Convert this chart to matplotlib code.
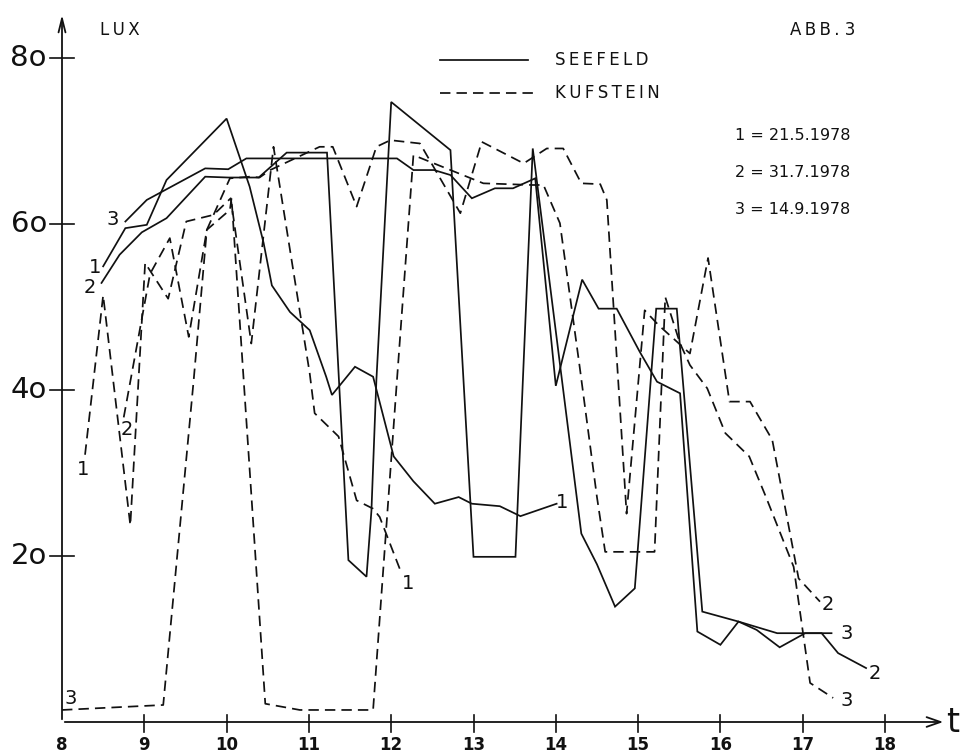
import matplotlib
matplotlib.use("Agg")
import matplotlib.pyplot as plt

# ---------------- data (hour of day, lux) ----------------
seefeld_1_t = [8.50, 8.77, 9.03, 9.27, 10.00, 10.28, 10.45, 10.55, 10.77, 11.01, 11.21, 11.28,
               11.56, 11.78, 12.03, 12.27, 12.53, 12.82, 12.98, 13.32, 13.57, 14.01]
seefeld_1_v = [54.9, 59.5, 59.9, 65.3, 72.7, 64.5, 57.7, 52.6, 49.4, 47.2, 41.6, 39.4,
               42.8, 41.6, 32.0, 29.0, 26.3, 27.1, 26.3, 26.0, 24.8, 26.3]

seefeld_2_t = [8.48, 8.70, 8.97, 9.27, 9.74, 10.02, 10.39, 10.73, 11.22, 11.48, 11.70, 11.76,
               11.82, 12.00, 12.72, 13.00, 13.51, 13.60, 13.72, 14.31, 14.50, 14.72, 14.96,
               15.22, 15.47, 15.78, 16.22, 16.69, 17.23, 17.43, 17.77]
seefeld_2_v = [52.9, 56.3, 59.0, 60.7, 65.7, 65.6, 65.6, 68.6, 68.6, 19.5, 17.5, 25.5,
               41.2, 74.7, 68.9, 19.9, 19.9, 41.2, 69.1, 22.7, 19.0, 13.9, 16.1,
               49.8, 49.8, 13.3, 12.1, 10.7, 10.7, 8.3, 6.5]

seefeld_3_t = [8.77, 9.03, 9.74, 10.02, 10.24, 12.07, 12.27, 12.52, 12.72, 12.98, 13.26, 13.48,
               13.75, 14.00, 14.32, 14.52, 14.74, 15.02, 15.23, 15.51, 15.72, 16.00, 16.22,
               16.44, 16.72, 17.03, 17.35]
seefeld_3_v = [60.3, 62.9, 66.7, 66.6, 67.9, 67.9, 66.5, 66.5, 65.9, 63.1, 64.3, 64.3,
               65.5, 40.5, 53.3, 49.8, 49.8, 44.6, 41.0, 39.6, 10.9, 9.3, 12.1,
               11.1, 9.0, 10.7, 10.7]

kufstein_1_t = [8.28, 8.50, 8.83, 9.01, 9.29, 9.51, 9.84, 10.05, 10.30, 10.57, 11.01, 11.07,
                11.36, 11.58, 11.78, 11.86, 12.11]
kufstein_1_v = [32.2, 51.4, 23.7, 55.3, 51.0, 60.3, 61.1, 63.1, 45.6, 69.3, 42.0, 37.2,
                34.4, 26.7, 25.7, 24.7, 18.3]

kufstein_2_t = [8.75, 9.07, 9.31, 9.54, 9.76, 10.04, 10.28, 10.40, 10.53, 11.13, 11.29, 11.58,
                11.82, 11.99, 12.35, 12.84, 13.10, 13.61, 13.89, 14.09, 14.31, 14.54, 14.62,
                14.86, 15.08, 15.25, 15.63, 15.85, 16.11, 16.36, 16.63, 16.95, 17.21]
kufstein_2_v = [36.7, 54.0, 58.3, 46.4, 59.3, 65.5, 65.7, 65.6, 66.5, 69.3, 69.3, 62.1,
                69.3, 70.1, 69.7, 61.3, 69.9, 67.3, 69.1, 69.1, 64.9, 64.8, 62.9,
                25.1, 49.6, 47.8, 44.4, 55.9, 38.6, 38.6, 34.0, 17.3, 14.5]

kufstein_3_t = [8.00, 9.23, 9.60, 9.76, 10.04, 10.06, 10.47, 10.89, 11.78, 12.07, 12.27, 13.12,
                13.71, 13.85, 14.05, 14.29, 14.50, 14.60, 15.20, 15.33, 15.51, 15.63, 15.84,
                16.06, 16.35, 16.55, 16.89, 17.09, 17.37]
kufstein_3_v = [1.45, 2.05, 41.2, 59.3, 61.7, 63.1, 2.2, 1.45, 1.45, 41.2, 68.3, 64.9,
                64.7, 64.7, 60.1, 42.8, 27.1, 20.5, 20.5, 51.2, 45.6, 43.0, 40.2,
                34.8, 32.0, 27.2, 18.7, 4.7, 2.9]

x_ticks = [8, 9, 10, 11, 12, 13, 14, 15, 16, 17, 18]
y_ticks = [20, 40, 60, 80]
y_tick_labels = ["2o", "4o", "6o", "8o"]
dates = ["1 = 21.5.1978", "2 = 31.7.1978", "3 = 14.9.1978"]

# ---------------- figure ----------------
W, H = 965, 755
fig = plt.figure(figsize=(W / 100, H / 100), dpi=100)
ax = fig.add_axes([0, 0, 1, 1])
# pixel mapping: t=8 -> x 62 px, 82.3 px per hour; lux 0 -> y 722 px, 8.3 px per lux
PX_H, X0 = 82.3, 62.0
PX_L, Y0 = 8.3, 722.0
ax.set_xlim(8 - X0 / PX_H, 8 + (W - X0) / PX_H)
ax.set_ylim(-(H - Y0) / PX_L, Y0 / PX_L)
ax.axis("off")

def dx(px):
    return px / PX_H

def dy(px):
    return px / PX_L

def fx(px):  # figure pixel x -> data
    return 8 + (px - X0) / PX_H

def fy(py):  # figure pixel y (from top) -> data
    return (Y0 - py) / PX_L

ink = "#111111"
lw = 1.25
dash = (0, (6, 3.5))
font = "DejaVu Sans"
TS = "\u2009"  # thin space for the wide-spaced lettering

def spaced(s):
    return TS.join(s)

for tt, vv in [(seefeld_1_t, seefeld_1_v), (seefeld_2_t, seefeld_2_v), (seefeld_3_t, seefeld_3_v)]:
    ax.plot(tt, vv, color=ink, lw=lw, solid_joinstyle="miter")
for tt, vv in [(kufstein_1_t, kufstein_1_v), (kufstein_2_t, kufstein_2_v), (kufstein_3_t, kufstein_3_v)]:
    ax.plot(tt, vv, color=ink, lw=lw, linestyle=dash)

# axes with arrows
ax.annotate("", xy=(fx(946), 0), xytext=(8, 0),
            arrowprops=dict(arrowstyle="->,head_length=1.0,head_width=0.35", color=ink, lw=1.3))
ax.annotate("", xy=(8, fy(12)), xytext=(8, 0),
            arrowprops=dict(arrowstyle="->,head_length=1.0,head_width=0.25", color=ink, lw=1.3))
ax.text(fx(953), fy(722), "t", fontsize=24, family=font, ha="center", va="center", color=ink)

for xt in x_ticks[1:]:
    ax.plot([xt, xt], [-dy(10), dy(7)], color=ink, lw=1.2)
for xt in x_ticks:
    ax.text(xt, fy(745), str(xt), fontsize=12, fontweight="bold", family=font,
            ha="center", va="center", color=ink)

for yt, lab in zip(y_ticks, y_tick_labels):
    ax.plot([8 - dx(12), 8 + dx(12)], [yt, yt], color=ink, lw=1.2)
    ax.text(fx(47), yt, lab, fontsize=21, family=font, ha="right", va="center", color=ink)

ax.text(fx(100), fy(30), spaced("LUX"), fontsize=12, family=font, ha="left", va="center", color=ink)
ax.text(fx(790), fy(30), spaced("ABB.") + " 3", fontsize=12, family=font, ha="left", va="center", color=ink)

# legend
ax.plot([fx(440), fx(528)], [fy(60)] * 2, color=ink, lw=lw)
ax.text(fx(555), fy(60), spaced("SEEFELD"), fontsize=12, family=font, ha="left", va="center", color=ink)
ax.plot([fx(440), fx(535)], [fy(93)] * 2, color=ink, lw=lw, linestyle=dash)
ax.text(fx(555), fy(93), spaced("KUFSTEIN"), fontsize=12, family=font, ha="left", va="center", color=ink)

for i, d in enumerate(dates):
    ax.text(fx(735), fy(135 + 37.5 * i), d, fontsize=11.5, family=font,
            ha="left", va="center", color=ink)

# series labels
labels = [
    ("3", 8.62, 60.5), ("1", 8.40, 54.8), ("2", 8.34, 52.3),
    ("1", 8.26, 30.4), ("2", 8.79, 35.2), ("3", 8.10, 2.8),
    ("1", 12.20, 16.7), ("1", 14.08, 26.4),
    ("2", 17.30, 14.1), ("3", 17.53, 10.7), ("2", 17.88, 5.8), ("3", 17.54, 2.65),
]
for s, tx, ty in labels:
    ax.text(tx, ty, s, fontsize=14, family=font, ha="center", va="center", color=ink)

fig.savefig("out.png", dpi=100)
